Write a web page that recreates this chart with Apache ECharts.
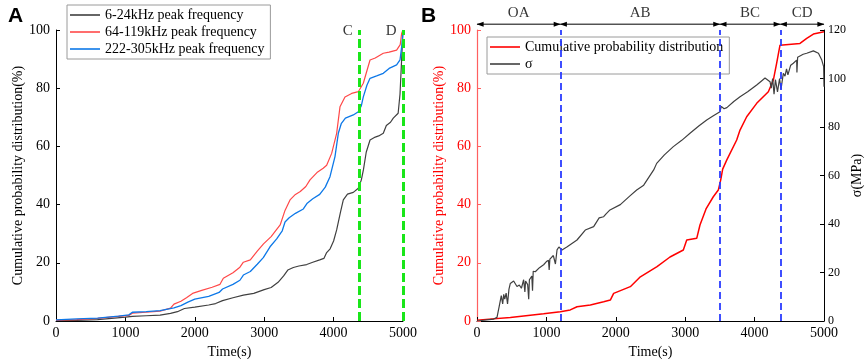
<!DOCTYPE html>
<html>
<head>
<meta charset="utf-8">
<script src="https://cdn.jsdelivr.net/npm/echarts@6/dist/echarts.min.js"></script>
<style>
  html, body { margin: 0; padding: 0; background: #fff; }
  #chart { width: 865px; height: 359px; }
</style>
</head>
<body>
<div id="chart"></div>
<script>
// ---- panel A: cumulative probability distribution (%) of each peak-frequency band, [time(s), %]
const band6_24 = [[0,0.1],[300,0.2],[600,0.5],[800,0.9],[1000,1.3],[1100,1.6],[1300,1.8],[1500,2.0],[1650,2.6],[1750,3.2],[1850,4.3],[2000,4.8],[2200,5.5],[2300,6.0],[2400,7.0],[2550,8.0],[2700,8.9],[2850,9.5],[3000,10.8],[3100,11.5],[3200,13.3],[3280,15.5],[3340,17.5],[3420,18.4],[3500,18.9],[3612,19.4],[3700,20.2],[3800,21],[3860,21.5],[3900,23.5],[3950,24.8],[4000,27.5],[4044,31.3],[4100,37.5],[4140,41.6],[4200,43.6],[4284,44.2],[4356,45.6],[4400,48.5],[4430,52],[4470,58],[4525,62.2],[4600,63.2],[4650,63.6],[4716,64.5],[4760,67.2],[4820,68.3],[4860,69.7],[4930,71.4],[4957,78],[4980,89.7],[5000,100]];
const band64_119 = [[0,0.3],[300,0.5],[600,0.9],[900,1.6],[1050,1.9],[1100,2.7],[1300,3.0],[1500,3.4],[1650,4.4],[1700,5.8],[1800,6.8],[1880,8],[1978,9.6],[2100,10.5],[2250,11.6],[2363,12.6],[2411,14.7],[2550,16.6],[2650,18.5],[2700,20.2],[2800,21.0],[2900,24.0],[2990,26.5],[3100,29],[3180,31.5],[3230,33],[3300,38],[3372,41.6],[3450,43.5],[3520,44.5],[3600,46.2],[3660,48.5],[3760,51],[3850,52.5],[3900,53.5],[3972,57.6],[4044,64.5],[4092,73.6],[4164,77],[4260,78.2],[4356,78.8],[4428,81.7],[4480,86],[4525,89.7],[4600,90.4],[4716,92],[4800,92.4],[4908,93.1],[4960,95],[4980,98.8],[5000,100]];
const band222_305 = [[0,0.4],[300,0.7],[600,1.0],[900,1.7],[1050,2.1],[1100,3.0],[1300,3.2],[1500,3.6],[1700,4.5],[1800,5.3],[1900,6.5],[2000,7.5],[2200,8.5],[2350,9.8],[2400,11],[2550,12.6],[2650,14],[2700,15.8],[2800,17],[2900,19.5],[2987,21.8],[3084,25.5],[3180,28.2],[3260,31],[3300,34],[3360,35.5],[3450,37],[3564,38.5],[3620,40.5],[3700,42],[3800,43.5],[3880,46],[3948,49.6],[4020,56.5],[4068,64.5],[4110,67.8],[4170,69.7],[4284,70.8],[4356,71.9],[4400,74],[4428,77],[4480,81],[4525,83.4],[4620,84.2],[4716,85.1],[4800,86.8],[4908,88],[4957,89.7],[4985,95],[5000,100]];
const pointTimes = [4370, 5000];
const pointNames = ['C', 'D'];

// ---- panel B: cumulative probability (%) and stress sigma (MPa), [time(s), value]
const cumProb = [[0,0.3],[480,1.2],[960,2.5],[1200,3.2],[1344,3.8],[1441,4.9],[1633,5.5],[1825,6.6],[1921,7.2],[1969,9.5],[2209,11.8],[2354,15.2],[2594,18.7],[2781,22],[2973,24.4],[3022,27.8],[3166,28.4],[3213,33],[3300,38.5],[3405,42.7],[3477,45],[3512,48.5],[3540,52.2],[3598,55.3],[3742,62.2],[3790,65.6],[3886,70.2],[4030,74.8],[4198,78.8],[4270,82.8],[4318,88.6],[4366,94.8],[4654,95.4],[4751,97.1],[4847,98.6],[5000,99.4]];
const stress = [[0,0],[240,0.8],[288,1.5],[320,6],[350,10.5],[370,7],[385,11],[400,9],[420,11.5],[440,7],[460,13],[480,15.5],[528,16.5],[576,14.2],[610,14.8],[640,13.5],[672,17],[690,12],[700,16.5],[730,15],[745,9],[755,17],[790,18.5],[800,12.5],[810,20.5],[840,20.3],[900,22],[960,23.2],[1000,24.5],[1030,25],[1040,21],[1050,25.5],[1100,27],[1130,23.5],[1153,29.3],[1180,30.5],[1225,29.3],[1300,30.6],[1441,33.4],[1560,37.5],[1681,38.9],[1760,42.5],[1825,43],[1860,44.2],[1916,45.8],[2065,48],[2200,51.5],[2301,54],[2402,56],[2546,62.3],[2589,65],[2700,68.5],[2829,71.9],[2950,74.5],[3069,77.4],[3200,80.5],[3310,82.9],[3400,84.5],[3501,86.3],[3520,88.5],[3560,87.5],[3600,88],[3700,90.5],[3790,92.5],[3900,94.5],[4030,97.3],[4100,99],[4150,100.2],[4222,98.7],[4240,96],[4260,100],[4280,93.5],[4300,99.5],[4330,94.5],[4360,100],[4380,95.5],[4414,102.1],[4438,101],[4460,104],[4480,101.5],[4520,105.5],[4558,106.3],[4606,107.6],[4610,102.5],[4620,108.8],[4700,110],[4751,110.4],[4847,111.4],[4920,110.4],[4968,107.6],[4995,104.9],[5000,96.6]];
const stageBounds = [0, 1200, 3500, 4370, 5000];
const stageNames = ['OA', 'AB', 'BC', 'CD'];

const serif = 'Liberation Serif';
const arrowY = 102;   // just above the 100 % line of panel B
const arrowHalf = 45; // half of an arrow head, in seconds

let myChart = echarts.init(document.getElementById('chart'));

function plain(v) {
  return String(v);
}

function timeAxis(gridIndex) {
  return {
    type: 'value', gridIndex: gridIndex, min: 0, max: 5000, interval: 1000,
    name: 'Time(s)', nameLocation: 'middle', nameGap: 17,
    nameTextStyle: { fontFamily: serif, fontSize: 14, color: '#000' },
    axisLine: { show: true, onZero: false, lineStyle: { color: '#000', width: 1 } },
    axisTick: { show: true, inside: true, length: 4, lineStyle: { color: '#000' } },
    axisLabel: { margin: 5, fontFamily: serif, fontSize: 14, color: '#000', formatter: plain },
    splitLine: { show: false }
  };
}

let series = [
  { name: '6-24kHz peak frequency', type: 'line', xAxisIndex: 0, yAxisIndex: 0, data: band6_24,
    symbol: 'none', lineStyle: { color: '#404040', width: 1.2 }, itemStyle: { color: '#404040' },
    markLine: {
      silent: true, symbol: 'none', label: { show: false },
      lineStyle: { color: '#19e619', width: 3, type: [9, 4] },
      data: pointTimes.map(t => ({ xAxis: t }))
    } },
  { name: '64-119kHz peak frequency', type: 'line', xAxisIndex: 0, yAxisIndex: 0, data: band64_119,
    symbol: 'none', lineStyle: { color: '#ff4848', width: 1.2 }, itemStyle: { color: '#ff4848' } },
  { name: '222-305kHz peak frequency', type: 'line', xAxisIndex: 0, yAxisIndex: 0, data: band222_305,
    symbol: 'none', lineStyle: { color: '#0d78e8', width: 1.3 }, itemStyle: { color: '#0d78e8' } },
  // C / D letters next to the green lines
  { type: 'scatter', xAxisIndex: 0, yAxisIndex: 0, symbolSize: 1, silent: true, clip: false,
    itemStyle: { color: 'rgba(0,0,0,0)' },
    label: { show: true, position: 'left', distance: 6, formatter: '{b}', fontFamily: serif, fontSize: 15, color: '#000' },
    data: pointTimes.map((t, i) => ({ name: pointNames[i], value: [t, 99.5] })) },

  { name: 'Cumulative probability distribution', type: 'line', xAxisIndex: 1, yAxisIndex: 1, data: cumProb,
    symbol: 'none', lineStyle: { color: '#ff0000', width: 1.5 }, itemStyle: { color: '#ff0000' },
    markLine: {
      silent: true, symbol: 'none', label: { show: false },
      lineStyle: { color: '#2b3cff', width: 1.8, type: [7, 4] },
      data: stageBounds.slice(1, -1).map(t => ({ xAxis: t }))
    } },
  { name: 'σ', type: 'line', xAxisIndex: 1, yAxisIndex: 2, data: stress,
    symbol: 'none', lineStyle: { color: '#404040', width: 1.2 }, itemStyle: { color: '#404040' } },
  // stage labels OA / AB / BC / CD
  { type: 'scatter', xAxisIndex: 1, yAxisIndex: 1, symbolSize: 1, silent: true, clip: false,
    itemStyle: { color: 'rgba(0,0,0,0)' },
    label: { show: true, position: 'top', distance: 3, formatter: '{b}', fontFamily: serif, fontSize: 15, color: '#000' },
    data: stageNames.map((n, i) => ({ name: n, value: [(stageBounds[i] + stageBounds[i + 1]) / 2, arrowY] })) }
];

// double headed arrows for each stage
stageNames.forEach((n, i) => {
  let a = stageBounds[i], b = stageBounds[i + 1];
  series.push({
    type: 'line', xAxisIndex: 1, yAxisIndex: 1, clip: false, silent: true,
    showSymbol: true, showAllSymbol: true, symbolSize: [5, 7],
    lineStyle: { color: '#000', width: 1 }, itemStyle: { color: '#000' },
    data: [
      { value: [a, arrowY], symbol: 'none' },
      { value: [a + arrowHalf, arrowY], symbol: 'triangle', symbolRotate: 90 },
      { value: [b - arrowHalf, arrowY], symbol: 'triangle', symbolRotate: -90 },
      { value: [b, arrowY], symbol: 'none' }
    ]
  });
});

let legendBase = {
  orient: 'vertical', icon: 'rect', itemWidth: 30, itemHeight: 1.6, itemGap: 3,
  padding: [3, 6, 3, 3], borderColor: '#9a9a9a', borderWidth: 1, backgroundColor: '#fff',
  selectedMode: false, textStyle: { fontFamily: serif, fontSize: 14, color: '#000', lineHeight: 14 }
};

myChart.setOption({
  animation: false,
  backgroundColor: '#fff',
  title: [
    { text: 'A', left: 3, top: 1, textStyle: { fontFamily: 'Liberation Sans', fontWeight: 'bold', fontSize: 21, color: '#000' } },
    { text: 'B', left: 416, top: 1, textStyle: { fontFamily: 'Liberation Sans', fontWeight: 'bold', fontSize: 21, color: '#000' } }
  ],
  legend: [
    Object.assign({}, legendBase, {
      data: ['6-24kHz peak frequency', '64-119kHz peak frequency', '222-305kHz peak frequency'],
      left: 67, top: 5 }),
    Object.assign({}, legendBase, {
      data: ['Cumulative probability distribution', 'σ'],
      left: 487, top: 37 })
  ],
  grid: [
    { left: 56, right: 462, top: 30, bottom: 38, outerBoundsMode: 'none' },
    { left: 477, right: 41, top: 30, bottom: 38, outerBoundsMode: 'none' }
  ],
  xAxis: [timeAxis(0), timeAxis(1)],
  yAxis: [
    { type: 'value', gridIndex: 0, min: 0, max: 100, interval: 20,
      name: 'Cumulative probability distribution(%)', nameLocation: 'middle', nameGap: 27,
      nameTextStyle: { fontFamily: serif, fontSize: 14, color: '#000' },
      axisLine: { show: true, lineStyle: { color: '#000', width: 1 } },
      axisTick: { show: true, inside: true, length: 4, lineStyle: { color: '#000' } },
      axisLabel: { margin: 6, fontFamily: serif, fontSize: 14, color: '#000', formatter: plain },
      splitLine: { show: false } },
    { type: 'value', gridIndex: 1, min: 0, max: 100, interval: 20, position: 'left',
      name: 'Cumulative probability distribution(%)', nameLocation: 'middle', nameGap: 27,
      nameTextStyle: { fontFamily: serif, fontSize: 14, color: '#ff0000' },
      axisLine: { show: true, lineStyle: { color: '#ff6060', width: 1.2 } },
      axisTick: { show: true, inside: true, length: 4, lineStyle: { color: '#ff6060' } },
      axisLabel: { margin: 6, fontFamily: serif, fontSize: 14, color: '#ff0000', formatter: plain },
      splitLine: { show: false } },
    { type: 'value', gridIndex: 1, min: 0, max: 120, interval: 20, position: 'right',
      name: 'σ(MPa)', nameLocation: 'middle', nameGap: 26,
      nameTextStyle: { fontFamily: serif, fontSize: 14, color: '#000' },
      axisLine: { show: true, lineStyle: { color: '#000', width: 1 } },
      axisTick: { show: true, inside: true, length: 4, lineStyle: { color: '#000' } },
      axisLabel: { margin: 4, fontFamily: serif, fontSize: 12, color: '#000', formatter: plain },
      splitLine: { show: false } }
  ],
  series: series
});
</script>
</body>
</html>
